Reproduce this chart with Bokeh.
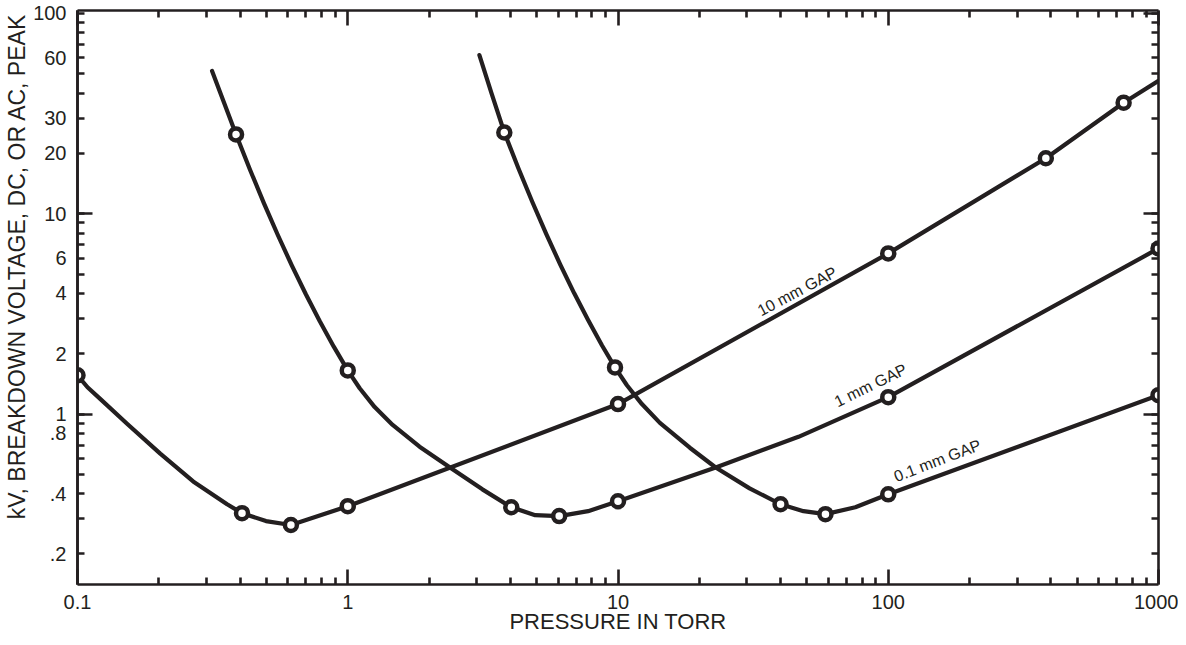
import math
from bokeh.plotting import figure
from bokeh.models import LogAxis, FixedTicker, Range1d, Title
from bokeh.embed import file_html
from bokeh.resources import INLINE
from bokeh.core.properties import value

# ---------------- data ----------------
gap10_curve_x = [0.1, 0.1089, 0.1216, 0.1529, 0.2024, 0.2679, 0.3577, 0.4062, 0.4982, 0.6161, 1,
                 10, 100, 382.9, 742.9, 1000]
gap10_curve_y = [1.56, 1.36, 1.187, 0.892, 0.6339, 0.4607, 0.3543, 0.3198, 0.292, 0.2791, 0.3464,
                 1.121, 6.339, 18.93, 35.85, 46.07]
gap10_mark_x = [0.1, 0.4062, 0.6161, 1, 10, 100, 382.9, 742.9]
gap10_mark_y = [1.56, 0.3198, 0.2791, 0.3464, 1.121, 6.339, 18.93, 35.85]

gap1_curve_x = [0.3147, 0.3486, 0.3861, 0.4349, 0.4898, 0.5516, 0.6213, 0.6998, 0.7881, 0.8878, 1,
                1.107, 1.258, 1.466, 1.844, 2.42, 3.149, 4.029, 4.94, 6.059, 7.751, 10, 22.99,
                46.55, 100, 1000]
gap1_curve_y = [51.64, 35.85, 24.89, 16.59, 11.27, 7.808, 5.509, 3.963, 2.903, 2.169, 1.651,
                1.345, 1.083, 0.882, 0.6866, 0.5343, 0.4205, 0.3424, 0.3126, 0.3091, 0.3272,
                0.3667, 0.5404, 0.7693, 1.214, 6.709]
gap1_mark_x = [0.3861, 1, 4.029, 6.059, 10, 100, 1000]
gap1_mark_y = [24.89, 1.651, 0.3424, 0.3091, 0.3667, 1.214, 6.709]

gap01_curve_x = [3.07, 3.4, 3.796, 4.276, 4.816, 5.424, 6.109, 6.88, 7.751, 8.729, 9.748, 10.79,
                 12.26, 14.29, 18.44, 22.99, 30.69, 39.95, 48.58, 58.56, 75.54, 100, 1000]
gap01_curve_y = [61.96, 40.18, 25.46, 16.93, 11.47, 7.934, 5.591, 4.018, 2.947, 2.198, 1.709,
                 1.392, 1.121, 0.9025, 0.6787, 0.5404, 0.4253, 0.3543, 0.3272, 0.3162, 0.3424,
                 0.3972, 1.242]
gap01_mark_x = [3.796, 9.748, 39.95, 58.56, 100, 1000]
gap01_mark_y = [25.46, 1.709, 0.3543, 0.3162, 0.3972, 1.242]

gap_labels = ["10 mm GAP", "1 mm GAP", "0.1 mm GAP"]

x_major = [0.1, 1, 10, 100, 1000]
x_major_labels = ["0.1", "1", "10", "100", "1000"]
x_minor = [0.2, 0.3, 0.4, 0.5, 0.6, 0.7, 0.8, 0.9,
           2, 3, 4, 5, 6, 7, 8, 9,
           20, 30, 40, 50, 60, 70, 80, 90,
           200, 300, 400, 500, 600, 700, 800, 900]

y_labeled = [0.2, 0.4, 0.8, 1, 2, 4, 6, 10, 20, 30, 60, 100]
y_labels = [".2", ".4", ".8", "1", "2", "4", "6", "10", "20", "30", "60", "100"]
y_unlabeled = [0.3, 0.5, 0.6, 0.7, 0.9, 3, 5, 7, 8, 9, 40, 50, 70, 80, 90]
y_decades = [1, 10, 100]

x_title = "PRESSURE IN TORR"
y_title = "kV, BREAKDOWN VOLTAGE, DC, OR AC, PEAK"

# ---------------- figure ----------------
INK = "#231f20"
FONT = "Liberation Sans"

p = figure(width=1178, height=637, x_axis_type="log", y_axis_type="log",
           x_range=Range1d(0.1, 1000), y_range=Range1d(0.1408, 103.5),
           output_backend="svg", toolbar_location=None,
           min_border_left=75, min_border_right=20, min_border_top=10, min_border_bottom=53)
p.xgrid.visible = False
p.ygrid.visible = False
p.outline_line_color = None
p.background_fill_color = "white"
p.border_fill_color = "white"


def style_axis(ax, major_in, minor_in):
    ax.axis_line_color = INK
    ax.axis_line_width = 2.6
    ax.major_tick_line_color = INK
    ax.minor_tick_line_color = INK
    ax.major_tick_line_width = 2.6
    ax.minor_tick_line_width = 2.6
    ax.major_tick_in = major_in
    ax.major_tick_out = 0
    ax.minor_tick_in = minor_in
    ax.minor_tick_out = 0


def hide_labels(ax):
    ax.major_label_text_font_size = "1px"
    ax.major_label_text_alpha = 0
    ax.major_label_standoff = 0


# bottom axis
xb = p.xaxis[0]
xb.ticker = FixedTicker(ticks=x_major, minor_ticks=x_minor)
style_axis(xb, 15, 7)
xb.major_label_overrides = {v: s for v, s in zip(x_major, x_major_labels)}
xb.major_label_text_font = FONT
xb.major_label_text_font_size = "20px"
xb.major_label_text_color = INK
xb.major_label_standoff = 10
xb.axis_label = x_title
xb.axis_label_text_font = FONT
xb.axis_label_text_font_size = "22px"
xb.axis_label_text_font_style = "normal"
xb.axis_label_text_color = INK
xb.axis_label_standoff = -3

# left: long decade ticks (closest to frame, no labels)
yl = p.yaxis[0]
yl.ticker = FixedTicker(ticks=[1, 10], minor_ticks=[])
style_axis(yl, 15, 0)
hide_labels(yl)

# left: labelled axis
yl2 = LogAxis(ticker=FixedTicker(ticks=y_labeled, minor_ticks=y_unlabeled))
style_axis(yl2, 7, 7)
yl2.major_label_overrides = {v: s for v, s in zip(y_labeled, y_labels)}
yl2.major_label_text_font = FONT
yl2.major_label_text_font_size = "20px"
yl2.major_label_text_color = INK
yl2.major_label_standoff = 11
p.add_layout(yl2, "left")

# y title, placed like the reference (its top end near the top of the frame)
yt = Title(text=y_title, align="right", offset=3, standoff=2,
           text_font=FONT, text_font_size="23px", text_font_style="normal", text_color=INK)
p.add_layout(yt, "left")

# right axis (ticks only)
yr = LogAxis(ticker=FixedTicker(ticks=y_decades, minor_ticks=y_labeled + y_unlabeled))
style_axis(yr, 15, 7)
hide_labels(yr)
p.add_layout(yr, "right")

# top axis (ticks only)
xt = LogAxis(ticker=FixedTicker(ticks=x_major, minor_ticks=x_minor))
style_axis(xt, 15, 7)
hide_labels(xt)
p.add_layout(xt, "above")

# curves
for cx, cy in [(gap10_curve_x, gap10_curve_y), (gap1_curve_x, gap1_curve_y), (gap01_curve_x, gap01_curve_y)]:
    p.line(cx, cy, line_color=INK, line_width=4.2, line_join="round", line_cap="round")

# markers
mx = gap10_mark_x + gap1_mark_x + gap01_mark_x
my = gap10_mark_y + gap1_mark_y + gap01_mark_y
p.scatter(mx, my, marker="circle", size=12, fill_color="white", line_color=INK, line_width=4.5)

# curve labels
label_x = [46, 86, 152]
label_y = [4.1, 1.39, 0.585]
label_angle = [math.radians(28), math.radians(26), math.radians(21)]
p.text(x=label_x, y=label_y, text=gap_labels, angle=label_angle,
       text_font=value(FONT), text_font_size="16px", text_color=INK,
       text_align="center", text_baseline="middle")

open("out.html", "w").write(file_html(p, INLINE))
